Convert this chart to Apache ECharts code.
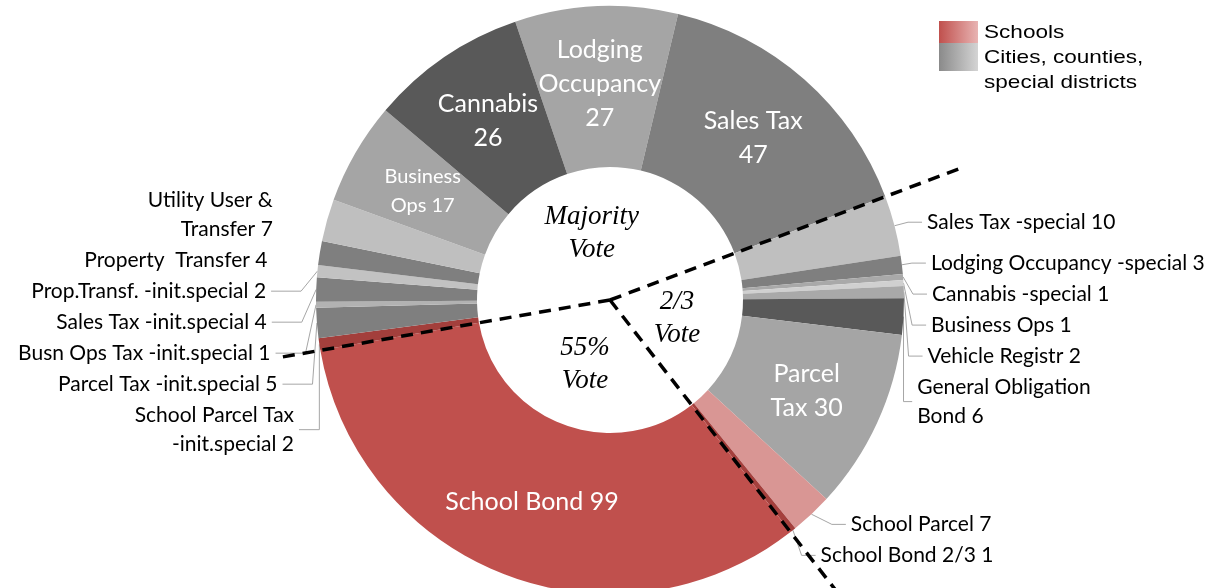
<!DOCTYPE html>
<html><head><meta charset="utf-8">
<script src="https://cdn.jsdelivr.net/npm/echarts@6/dist/echarts.min.js"></script>
<style>html,body{margin:0;padding:0;background:#fff}#c{width:1211px;height:588px}</style>
</head><body><div id="c"></div>
<script>
// ---- data ----
const categories = ['Lodging\nOccupancy','Sales Tax','Sales Tax -special','Lodging Occupancy -special','Cannabis -special','Business Ops','Vehicle Registr','General Obligation\nBond','Parcel\nTax','School Parcel','School Bond 2/3','School Bond','School Parcel Tax\n-init.special','Parcel Tax -init.special','Busn Ops Tax -init.special','Sales Tax -init.special','Prop.Transf. -init.special','Property  Transfer','Utility User &\nTransfer','Business\nOps','Cannabis'];
const values = [27,47,10,3,1,1,2,6,30,7,1,99,2,5,1,4,2,4,7,17,26];
const sectors = ['Cities','Cities','Cities','Cities','Cities','Cities','Cities','Cities','Cities','Schools','Schools','Schools','Schools','Cities','Cities','Cities','Cities','Cities','Cities','Cities','Cities'];
const voteRules = ['Majority','Majority','2/3','2/3','2/3','2/3','2/3','2/3','2/3','2/3','2/3','55%','Majority','Majority','Majority','Majority','Majority','Majority','Majority','Majority','Majority'];
const voteLabels = {'Majority':'Majority\nVote','2/3':'2/3\nVote','55%':'55%\nVote'};
const legendLabels = ['Schools','Cities, counties,','special districts'];
const insideLabels = ['Lodging\nOccupancy','Sales Tax','Parcel\nTax','School Bond','Business\nOps','Cannabis'];
const valueOnNewLine = ['Lodging\nOccupancy','Sales Tax','Cannabis'];
const noLeaderLine = ['Utility User &\nTransfer','Property  Transfer'];

// ---- styles ----
const sliceColors = ['#a5a5a5','#7f7f7f','#bfbfbf','#7f7f7f','#a9a9a9','#d0d0d0','#a9a9a9','#595959','#a5a5a5','#d99694','#a5403d','#c0504d','#a33f3c','#7f7f7f','#b2b2b2','#7f7f7f','#c2c2c2','#7f7f7f','#bfbfbf','#a5a5a5','#595959'];
const CX = 610, CY = 300, R0 = 133, R1 = 294, START = 108.8;
const dividerLen = {'2/3':1.29,'55%':1.32,'Majority':1.14};
const leaderLeft = {length:20, length2:30}, leaderRight = {length:14, length2:14};

const total = values.reduce((a,b)=>a+b,0);
const n = values.length;

function labelText(i){
  const sep = valueOnNewLine.includes(categories[i]) ? '\n' : ' ';
  return categories[i] + sep + values[i];
}

let run = 0;
const mainData = values.map((v,i)=>{
  const mid = (START - (run + v/2)/total*360) * Math.PI/180;
  run += v;
  const inside = insideLabels.includes(categories[i]);
  const d = {name: categories[i], value: v, itemStyle:{color: sliceColors[i]}};
  if (inside) {
    const small = categories[i]==='Business\nOps';
    d.label = {position:'inside', color:'#fff', fontSize: small ? 20 : 25, lineHeight: small ? 29 : 34};
  }
  const lead = Math.cos(mid) >= 0 ? leaderRight : leaderLeft;
  d.labelLine = {length: lead.length, length2: lead.length2};
  if (noLeaderLine.includes(categories[i])) d.labelLine.show = false;
  return d;
});

// vote-rule runs (for the centre labels and divider lines)
let s0 = 0;
for (let i=0;i<n;i++){ const p=(i-1+n)%n; if (voteRules[i]!==voteRules[p]) { s0=i; break; } }
const runs = [];
let cumAtS0 = 0;
for (let i=0;i<s0;i++) cumAtS0 += values[i];
const boundaries = [];
let acc = cumAtS0;
for (let k=0;k<n;k++){
  const i = (s0+k)%n;
  if (k===0 || voteRules[i]!==voteRules[(i-1+n)%n]) {
    runs.push({name: voteRules[i], value: 0});
    boundaries.push({cum: acc, rule: voteRules[i]});
  }
  runs[runs.length-1].value += values[i];
  acc += values[i];
}
const helperStart = START - cumAtS0/total*360;

const graphics = boundaries.map(b=>{
  const th = (START - b.cum/total*360) * Math.PI/180;
  const L = R1 * dividerLen[b.rule];
  return {type:'line', silent:true, z:100,
    shape:{x1:CX, y1:CY, x2:CX + L*Math.cos(th), y2:CY - L*Math.sin(th)},
    style:{stroke:'#000', lineWidth:3.5, lineDash:[12,8]}};
});

// legend
graphics.push(
  {type:'rect', shape:{x:939,y:21,width:39,height:22}, style:{fill:new echarts.graphic.LinearGradient(0,0,1,0,[{offset:0,color:'#c0504d'},{offset:1,color:'#e8b4b3'}])}},
  {type:'rect', shape:{x:939,y:43,width:39,height:28}, style:{fill:new echarts.graphic.LinearGradient(0,0,1,0,[{offset:0,color:'#8a8a8a'},{offset:1,color:'#d4d4d4'}])}}
);
[33,58,83].forEach((y,k)=>{
  graphics.push({type:'text', x:984, y:y, scaleX:1.22,
    style:{text: legendLabels[k], x:0, y:0, fill:'#000', font:'18.5px "Liberation Sans", Arial, sans-serif', textVerticalAlign:'middle', textAlign:'left'}});
});

const chart = echarts.init(document.getElementById('c'), null, {renderer:'canvas'});
chart.setOption({
  animation:false,
  backgroundColor:'#fff',
  series:[
    {
      type:'pie', center:[CX,CY], radius:[0,R0], startAngle: helperStart, clockwise:true,
      silent:true, z:1,
      itemStyle:{color:'rgba(0,0,0,0)'},
      label:{show:true, position:'inside', formatter:p=>voteLabels[p.name], color:'#000',
        fontFamily:'"Liberation Serif", "Times New Roman", serif', fontStyle:'italic', fontSize:27, lineHeight:33},
      labelLine:{show:false},
      emphasis:{disabled:true},
      data: runs
    },
    {
      type:'pie', center:[CX,CY], radius:[R0,R1], startAngle: START, clockwise:true,
      silent:true, z:2, avoidLabelOverlap:true,
      label:{show:true, position:'outside', color:'#000', fontFamily:'Lato, "Open Sans", sans-serif', fontSize:21, lineHeight:29,
        overflow:'none', bleedMargin:0,
        formatter: p => labelText(p.dataIndex)},
      labelLine:{show:true, length:16, length2:16, lineStyle:{color:'#a6a6a6', width:1}},
      emphasis:{disabled:true},
      data: mainData
    }
  ],
  graphic: graphics
});
</script>
</body></html>
